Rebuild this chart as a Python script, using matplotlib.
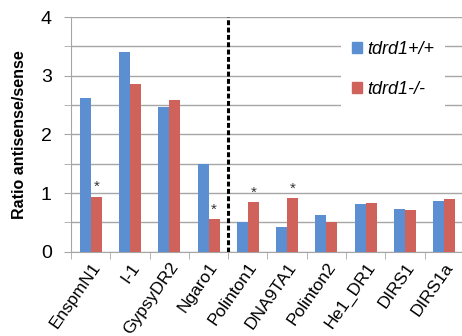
import numpy as np
import matplotlib.pyplot as plt
import matplotlib.transforms as mtransforms
from matplotlib.patches import Patch
from matplotlib.ticker import MultipleLocator

plt.rcParams['font.family'] = ['Liberation Sans', 'DejaVu Sans']

elements = ["EnspmN1", "I-1", "GypsyDR2", "Ngaro1", "Polinton1", "DNA9TA1",
            "Polinton2", "He1_DR1", "DIRS1", "DIRS1a"]
wild_type = [2.62, 3.40, 2.46, 1.50, 0.51, 0.42, 0.63, 0.82, 0.73, 0.87]
mutant = [0.93, 2.86, 2.59, 0.55, 0.84, 0.91, 0.51, 0.83, 0.71, 0.89]
significant = ["EnspmN1", "Ngaro1", "Polinton1", "DNA9TA1"]

blue = "#5b8fd2"
red = "#d0625c"
grid_grey = "#a6a6a6"

fig = plt.figure(figsize=(4.62, 3.36), dpi=100)
ax = fig.add_axes([0.154, 0.251, 0.85, 0.698])

x = np.arange(len(elements))
width = 0.28
ax.bar(x - width / 2, wild_type, width, color=blue, zorder=3)
ax.bar(x + width / 2, mutant, width, color=red, zorder=3)

# stars over the significant mutant bars
for i, name in enumerate(elements):
    if name in significant:
        ax.text(x[i] + width / 2, mutant[i] + 0.05, "*", ha="center", va="bottom",
                fontsize=11, color="#333333", zorder=4)

# separator between the two groups of elements
ax.plot([3.5, 3.5], [0, 4], color="black", linewidth=2.2, linestyle=(0, (1.6, 0.8)), zorder=4)

ax.set_xlim(-0.5, 9.5)
ax.set_ylim(0, 4)
ax.yaxis.set_major_locator(MultipleLocator(1))
ax.yaxis.set_minor_locator(MultipleLocator(0.5))
ax.grid(axis="y", which="both", color=grid_grey, linewidth=1, zorder=0)
ax.tick_params(axis="y", which="both", direction="out", length=5, color=grid_grey,
               labelsize=14, pad=9)

ax.set_xticks(x)
ax.set_xticklabels(elements, rotation=55, ha="right", va="top", rotation_mode="anchor",
                   fontsize=12.5)
shift = mtransforms.ScaledTranslation(6 / 72, 0, fig.dpi_scale_trans)
for lbl in ax.get_xticklabels():
    lbl.set_transform(lbl.get_transform() + shift)
ax.set_xticks(np.arange(-0.5, 10, 1), minor=True)
ax.tick_params(axis="x", which="major", length=0, pad=6)
ax.tick_params(axis="x", which="minor", direction="out", length=5, color=grid_grey)

for side in ["top", "right"]:
    ax.spines[side].set_visible(False)
for side in ["left", "bottom"]:
    ax.spines[side].set_color(grid_grey)

ax.set_ylabel("Ratio antisense/sense", fontsize=11.5, fontweight="bold", labelpad=10)

handles = [Patch(color=blue, label="tdrd1+/+"), Patch(color=red, label="tdrd1-/-")]
leg = ax.legend(handles=handles, loc="upper left", bbox_to_anchor=(0.665, 0.985),
                frameon=True, fancybox=False, edgecolor="none", framealpha=1,
                prop={"style": "italic", "size": 13}, handlelength=0.55, handleheight=0.55,
                handletextpad=0.3, labelspacing=1.3, borderpad=0.6)
leg.set_zorder(5)

fig.savefig("out.png", dpi=100)
